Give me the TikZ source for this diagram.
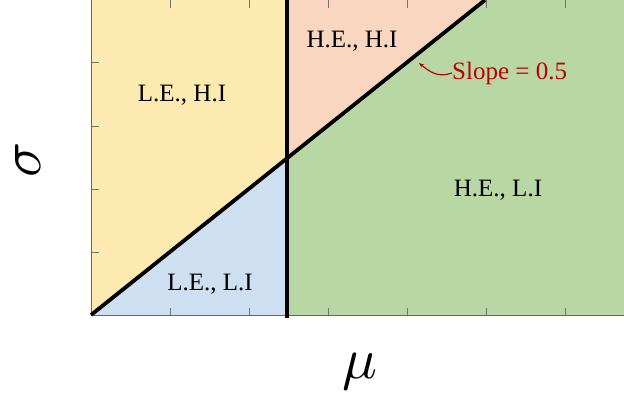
\documentclass[tikz,border=0pt]{standalone}
\usetikzlibrary{arrows.meta}
\usepackage{fontspec}
\setmainfont{Liberation Serif}
\usepackage{unicode-math}
\setmathfont{Latin Modern Math}
\begin{document}
\begin{tikzpicture}[x=1pt,y=-1pt,
  lbl/.style={font=\fontsize{25}{30}\selectfont, inner sep=0pt, anchor=base},
  axlbl/.style={font=\fontsize{58}{64}\selectfont, inner sep=0pt},
  tickln/.style={draw=black!55, line width=0.9pt},
  boundary/.style={line width=3.8pt, line cap=butt}]
\useasboundingbox (0,0) rectangle (624,400);
\definecolor{cyel}{RGB}{253,234,176}
\definecolor{cpea}{RGB}{248,214,192}
\definecolor{cgre}{RGB}{185,215,165}
\definecolor{cblu}{RGB}{205,223,240}
\definecolor{cred}{RGB}{192,0,0}
\coordinate (O) at (91,315);
\coordinate (X) at (287,158.5);
\coordinate (T) at (485,0);
\coordinate (VT) at (287,0);
\coordinate (VB) at (287,318);
% regions
\fill[cyel] (91,0) -- (VT) -- (X) -- (O) -- cycle;
\fill[cblu] (O) -- (X) -- (287,315) -- cycle;
\fill[cpea] (VT) -- (T) -- (X) -- cycle;
\fill[cgre] (X) -- (T) -- (624,0) -- (624,315) -- (287,315) -- cycle;
% axes
\draw[black!60, line width=1pt] (91,0) -- (91,315.5) -- (624,315.5);
% ticks
\foreach \xx in {170,249,328,407,486,565} {
  \draw[tickln] (\xx,315) -- (\xx,307.5);
  \draw[tickln] (\xx,0) -- (\xx,7.5);
}
\foreach \yy in {62,126,189,252} {
  \draw[tickln] (91,\yy) -- (98.5,\yy);
}
% boundaries
\draw[boundary] (O) -- (T);
\draw[boundary] (VT) -- (VB);
% labels
\node[lbl] (lehi) at (182,101) {L.E., H.I};
\node[lbl] (leli) at (210,290) {L.E., L.I};
\node[lbl] (hehi) at (352,47) {H.E., H.I};
\node[lbl] (heli) at (498,196) {H.E., L.I};
\node[lbl, anchor=base west, text=cred] (slope) at (452,79) {Slope = 0.5};
\coordinate (tip) at (419,63);
\draw[cred, line width=1.2pt, -{Stealth[length=5pt,width=4pt]}] (slope.west) .. controls (438,78) and (430,72) .. (tip);
\node[axlbl] (mu) at (360,372) {$\mu$};
\node[axlbl, rotate=90] (sigma) at (28,160) {$\sigma$};
\end{tikzpicture}
\end{document}
